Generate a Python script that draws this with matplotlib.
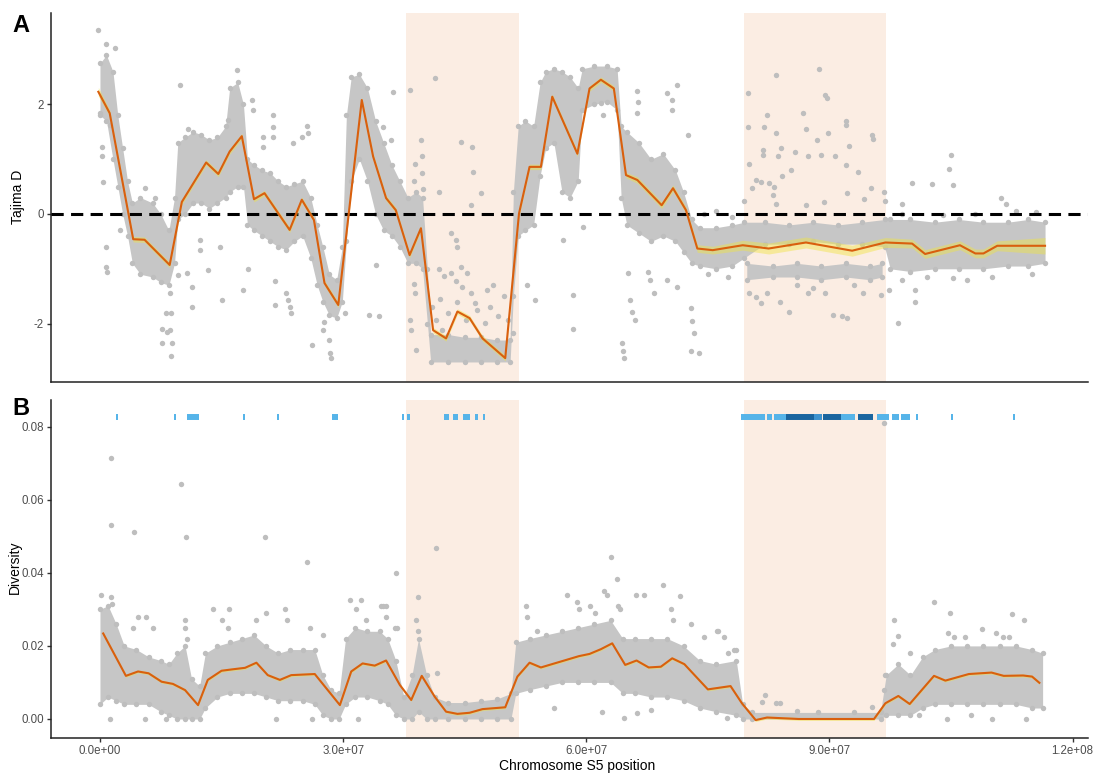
import numpy as np
import matplotlib
matplotlib.use('Agg')
import matplotlib.pyplot as plt

MB = 1e6

# positions in Mb
tajima_pos = [-0.2, 1.2, 4.1, 5.5, 8.6, 10.1, 13.1, 14.6, 16.0, 17.5,
              19.0, 20.3, 23.4, 24.9, 26.4, 27.7, 29.4, 32.3, 33.7, 35.3,
              36.5, 38.2, 39.6, 41.1, 42.7, 44.1, 45.6, 47.2, 50.0, 51.7,
              53.0, 54.4, 55.8, 58.9, 60.4, 61.8, 63.4, 64.9, 66.3, 69.3,
              70.7, 72.3, 73.7, 75.6, 79.3, 82.5, 87.1, 92.8, 96.9, 100.2,
              101.8, 106.1, 108.0, 109.0, 110.7, 116.6]
tajima_mean = [2.23, 1.84, -0.46, -0.47, -0.93, 0.22, 0.94, 0.73, 1.14, 1.42,
               0.27, 0.38, -0.29, 0.26, -0.11, -1.26, -1.66, 2.08, 1.05, 0.29,
               0.07, -0.75, -0.26, -2.12, -2.27, -1.78, -1.90, -2.27, -2.63, 0.01,
               0.86, 0.86, 2.14, 1.10, 2.29, 2.45, 2.29, 0.71, 0.62, 0.16,
               0.47, 0.07, -0.63, -0.66, -0.57, -0.63, -0.52, -0.67, -0.52, -0.54,
               -0.73, -0.57, -0.72, -0.72, -0.58, -0.58]
tajima_se = [0.08, 0.06, 0.05, 0.05, 0.05, 0.05, 0.05, 0.05, 0.05, 0.05,
             0.05, 0.05, 0.05, 0.05, 0.05, 0.05, 0.05, 0.05, 0.05, 0.05,
             0.05, 0.05, 0.05, 0.05, 0.05, 0.05, 0.05, 0.05, 0.05, 0.05,
             0.05, 0.05, 0.05, 0.05, 0.05, 0.05, 0.05, 0.05, 0.06, 0.06,
             0.06, 0.06, 0.07, 0.07, 0.09, 0.10, 0.10, 0.10, 0.09, 0.08,
             0.08, 0.08, 0.08, 0.08, 0.09, 0.15]

diversity_pos = [0.4, 3.2, 4.7, 6.0, 7.6, 9.0, 10.5, 12.1, 13.3, 15.0,
                 16.4, 17.9, 19.3, 20.7, 22.2, 23.6, 26.5, 29.6, 31.0, 32.4,
                 33.9, 35.3, 37.0, 38.4, 39.7, 41.3, 42.7, 44.1, 45.6, 47.2,
                 50.0, 51.5, 53.0, 54.4, 59.1, 60.4, 61.8, 63.2, 64.8, 66.2,
                 67.7, 69.2, 70.6, 72.1, 75.0, 77.8, 79.2, 80.9, 82.3, 86.2,
                 95.5, 96.9, 98.5, 99.9, 102.9, 104.3, 107.2, 110.0, 111.5, 113.9,
                 115.0, 115.9]
diversity_mean = [0.0234, 0.0118, 0.0130, 0.0125, 0.0102, 0.0096, 0.0079, 0.0038, 0.0107, 0.0132,
                  0.0136, 0.0140, 0.0154, 0.0120, 0.0107, 0.0120, 0.0123, 0.0038, 0.0130, 0.0152,
                  0.0146, 0.0160, 0.0093, 0.0052, 0.0118, 0.0061, 0.0020, 0.0014, 0.0017, 0.0027,
                  0.0032, 0.0116, 0.0154, 0.0141, 0.0172, 0.0178, 0.0191, 0.0207, 0.0148, 0.0160,
                  0.0141, 0.0143, 0.0166, 0.0150, 0.0081, 0.0090, 0.0043, -0.0003, 0.0004, 0.0000,
                  0.0000, 0.0043, 0.0063, 0.0041, 0.0118, 0.0105, 0.0123, 0.0127, 0.0118, 0.0119,
                  0.0116, 0.0099]
diversity_se = 0.0004

# dense part of the point cloud: (Mb, low, high)
tajima_cloud = [
    (0.0, 1.8, 2.75), (0.8, 1.7, 2.9), (1.6, 1.0, 2.6), (2.2, 0.5, 1.8), (2.8, 0.0, 1.2),
    (3.4, -0.4, 0.6), (4.0, -0.9, 0.2), (5.0, -1.1, 0.3), (6.5, -1.15, 0.2), (7.5, -1.25, 0.0),
    (8.5, -1.3, -0.3), (9.2, -0.9, 0.3), (9.6, -0.1, 1.3), (10.5, 0.0, 1.4), (11.5, 0.2, 1.5),
    (12.5, 0.2, 1.45), (13.5, 0.1, 1.35), (14.5, 0.2, 1.4), (15.5, 0.3, 1.6), (16.0, 0.4, 2.3),
    (17.0, 0.5, 2.4), (17.7, 0.5, 2.0), (18.2, -0.2, 1.0), (19.0, -0.3, 0.9), (20.0, -0.4, 0.8),
    (21.0, -0.5, 0.75), (22.0, -0.6, 0.6), (23.0, -0.65, 0.5), (24.0, -0.5, 0.55), (25.0, -0.4, 0.6),
    (26.0, -0.8, 0.3), (26.8, -1.3, -0.2), (27.5, -1.6, -0.6), (28.3, -1.85, -1.1), (29.2, -1.9, -1.2),
    (29.9, -1.6, -0.6), (30.4, -0.5, 1.8), (31.0, 0.6, 2.5), (32.0, 1.0, 2.55), (33.0, 0.6, 2.3),
    (34.0, 0.0, 1.7), (35.0, -0.3, 1.3), (36.0, -0.4, 0.9), (37.0, -0.6, 0.6), (38.0, -0.9, 0.3),
    (39.0, -0.9, 0.4), (39.8, -1.0, 0.3), (40.4, -2.0, -1.0), (40.8, -2.7, -2.2), (43.0, -2.7, -2.2),
    (45.0, -2.7, -2.25), (47.0, -2.7, -2.25), (49.0, -2.7, -2.3), (50.6, -2.7, -2.3), (51.0, -1.5, 0.4),
    (51.6, -0.4, 1.6), (52.5, -0.3, 1.7), (53.5, -0.2, 1.6), (54.3, 0.7, 2.4), (55.0, 1.2, 2.6),
    (56.0, 1.3, 2.65), (57.0, 0.4, 2.6), (58.0, 0.3, 2.5), (59.0, 0.6, 2.3), (59.5, 1.9, 2.65),
    (61.0, 2.0, 2.7), (62.5, 2.05, 2.7), (63.8, 1.9, 2.65), (64.3, 0.3, 1.6), (65.0, -0.2, 1.5),
    (66.5, -0.35, 1.3), (68.0, -0.5, 1.0), (69.5, -0.4, 1.1), (71.0, -0.5, 0.8), (72.0, -0.7, 0.4),
    (73.0, -0.9, -0.1), (74.0, -0.95, -0.25), (76.0, -1.0, -0.25), (78.0, -0.95, -0.2), (79.5, -0.8, -0.15),
    (82.0, -0.55, -0.15), (85.0, -0.55, -0.2), (88.0, -0.5, -0.15), (91.0, -0.55, -0.2), (94.0, -0.55, -0.15),
    (96.8, -0.6, -0.1), (97.5, -1.0, -0.1), (100.0, -1.05, -0.1), (103.0, -1.0, -0.15), (106.0, -1.0, -0.1),
    (109.0, -1.0, -0.15), (112.0, -0.95, -0.15), (114.5, -0.95, -0.1), (116.6, -0.9, -0.15),
]
tajima_cloud_low = [
    (79.8, -1.2, -0.9), (83.0, -1.15, -0.95), (86.0, -1.15, -0.9), (89.0, -1.2, -0.95),
    (92.0, -1.15, -0.9), (95.0, -1.2, -0.95), (96.5, -1.15, -0.9),
]
tajima_scatter = [
    (-0.2, 3.36), (0.8, 3.11), (1.9, 3.02), (0.0, 1.84), (0.3, 1.23), (0.3, 1.05), (0.4, 0.59),
    (0.8, -0.6), (0.8, -0.96), (0.9, -1.05), (1.2, 1.62), (2.5, -0.29), (5.5, 0.47), (6.8, 0.29),
    (7.6, -2.09), (7.6, -2.36), (8.7, -1.45), (8.8, -1.81), (8.7, -2.12), (8.9, -2.36), (8.8, -2.6),
    (8.2, -1.81), (8.3, -2.15), (9.9, 2.35), (9.6, -1.11), (10.7, -1.08), (11.3, -1.33), (11.3, -1.69),
    (10.9, 1.56), (12.3, -0.47), (12.3, -0.66), (13.3, -1.02), (14.8, -0.6), (15.0, -1.57), (16.9, 2.62),
    (15.8, 1.72), (17.7, -1.39), (18.3, -1.0), (18.8, 2.08), (18.9, 1.9), (20.1, 1.41), (20.1, 1.23),
    (21.4, 1.81), (21.4, 1.59), (21.4, 1.41), (21.6, -1.23), (21.6, -1.66), (23.0, -1.45), (23.2, -1.57),
    (23.4, -1.69), (23.6, -1.81), (23.8, 1.29), (24.9, 1.41), (25.6, 1.61), (25.7, 1.47), (26.1, -2.39),
    (27.5, -2.12), (27.6, -1.97), (28.3, -2.3), (28.4, -2.54), (28.5, -2.63), (30.2, -1.81), (33.2, -1.84),
    (34.4, -1.87), (34.1, -0.93), (34.9, 1.59), (35.9, 1.35), (36.1, 2.23), (38.2, 2.27), (41.3, 2.49),
    (39.6, 1.35), (39.7, 1.05), (39.7, 0.75), (39.8, 0.45), (38.9, 0.92), (38.8, 0.6), (44.6, 1.32),
    (45.9, 1.23), (46.0, 0.77), (41.8, 0.41), (47.0, 0.38), (45.8, 0.16), (43.3, -0.35), (43.9, -0.47),
    (44.1, -0.6), (41.8, -1.0), (42.4, -1.14), (43.3, -1.08), (43.9, -1.23), (44.5, -0.96), (44.7, -1.33),
    (45.3, -1.08), (45.8, -1.45), (46.3, -1.63), (47.7, -1.39), (48.1, -1.69), (38.8, -1.27), (38.9, -1.45),
    (38.2, -1.93), (38.4, -2.12), (39.0, -2.48), (52.7, -1.3), (53.7, -1.57), (58.4, -1.48), (58.4, -2.09),
    (57.1, -0.47), (59.6, -0.23), (62.1, 1.81), (61.8, 2.02), (66.3, 2.25), (66.4, 2.05), (66.2, 1.84),
    (70.0, 2.2), (70.6, 2.08), (71.2, 2.35), (70.6, 1.9), (72.6, 1.44), (65.2, -1.08), (65.4, -1.57),
    (65.6, -1.78), (66.0, -1.93), (64.4, -2.36), (64.5, -2.5), (64.6, -2.63), (67.6, -1.05), (67.8, -1.2),
    (68.3, -1.45), (70.0, -1.2), (71.2, -1.33), (72.9, -1.72), (73.1, -1.96), (73.3, -2.17), (72.9, -2.5),
    (73.9, -2.53), (41.0, -1.7), (41.4, -1.93), (42.2, -2.12), (43.0, -1.81), (45.1, -1.93), (46.5, -1.75),
    (47.5, -1.99), (49.1, -1.87), (50.3, -1.93), (50.9, -2.17), (42.0, -1.55), (44.0, -1.6), (48.5, -1.3),
    (49.8, -1.5), (79.9, 2.2), (83.4, 2.54), (88.7, 2.65), (89.5, 2.17), (89.7, 2.12), (82.3, 1.81),
    (81.9, 1.59), (80.0, 1.59), (80.1, 0.92), (83.4, 1.48), (86.7, 1.85), (87.1, 1.56), (89.8, 1.48),
    (88.5, 1.35), (92.0, 1.7), (92.0, 1.62), (92.4, 1.24), (95.3, 1.44), (95.4, 1.36), (81.8, 1.17),
    (81.8, 1.08), (84.0, 1.2), (85.8, 1.14), (83.7, 1.05), (87.3, 1.05), (88.9, 1.08), (90.7, 1.05),
    (92.1, 0.89), (93.5, 0.77), (80.9, 0.62), (81.5, 0.59), (82.5, 0.56), (83.1, 0.5), (85.3, 0.8),
    (84.2, 0.69), (80.5, 0.47), (83.0, 0.35), (92.2, 0.39), (95.1, 0.47), (94.3, 0.27), (96.7, 0.41),
    (79.4, 0.23), (83.4, 0.19), (87.1, 0.16), (89.3, 0.22), (96.8, 0.23), (98.9, 0.19), (100.2, 0.57),
    (102.7, 0.55), (105.2, 0.53), (105.0, 1.08), (104.8, 0.82), (111.2, 0.29), (111.8, 0.18), (115.5, 0.04),
    (80.1, -1.45), (80.9, -1.51), (81.5, -1.63), (82.3, -1.45), (83.9, -1.6), (85.0, -1.78), (87.3, -1.45),
    (89.5, -1.45), (90.4, -1.84), (91.6, -1.87), (92.2, -1.9), (94.1, -1.45), (96.3, -1.48), (98.4, -1.98),
    (100.5, -1.39), (100.5, -1.6), (105.3, -1.17), (97.3, -1.39), (86.0, -1.3), (88.0, -1.35), (93.0, -1.3),
    (74.5, 0.0), (76.0, 0.05), (78.0, -0.05), (99.0, 0.0), (104.0, -0.02), (108.0, 0.0), (113.0, 0.05),
    (75.0, -1.1), (77.5, -1.15), (99.0, -1.2), (102.0, -1.15), (107.0, -1.2), (110.0, -1.15), (115.0, -1.1),
]

diversity_cloud = [
    (0.0, 0.004, 0.030), (1.0, 0.006, 0.031), (2.0, 0.005, 0.026), (3.0, 0.004, 0.020), (4.5, 0.004, 0.019),
    (6.0, 0.004, 0.017), (7.5, 0.002, 0.016), (8.5, 0.001, 0.015), (9.5, 0.000, 0.018), (10.5, 0.000, 0.020),
    (11.3, 0.000, 0.011), (12.3, 0.000, 0.009), (13.0, 0.003, 0.018), (14.5, 0.006, 0.020), (16.0, 0.007, 0.021),
    (17.5, 0.007, 0.022), (19.0, 0.007, 0.023), (20.5, 0.006, 0.020), (22.0, 0.005, 0.018), (23.5, 0.005, 0.019),
    (25.0, 0.005, 0.019), (26.5, 0.004, 0.019), (27.5, 0.001, 0.012), (28.5, 0.000, 0.008), (29.5, 0.000, 0.007),
    (30.3, 0.004, 0.022), (31.5, 0.006, 0.025), (33.0, 0.006, 0.024), (34.5, 0.005, 0.024), (35.5, 0.004, 0.022),
    (36.5, 0.001, 0.016), (37.5, 0.000, 0.006), (38.5, 0.000, 0.012), (39.3, 0.002, 0.022), (40.3, 0.000, 0.012),
    (41.3, 0.000, 0.006), (43.0, 0.000, 0.0045), (45.0, 0.000, 0.0045), (47.0, 0.000, 0.005), (49.0, 0.000, 0.0055),
    (50.7, 0.000, 0.007), (51.3, 0.007, 0.021), (53.0, 0.008, 0.022), (55.0, 0.009, 0.023), (57.0, 0.010, 0.024),
    (59.0, 0.010, 0.025), (61.0, 0.010, 0.026), (63.0, 0.010, 0.027), (64.5, 0.007, 0.022), (66.0, 0.007, 0.022),
    (68.0, 0.006, 0.022), (70.0, 0.006, 0.022), (72.0, 0.005, 0.020), (74.0, 0.003, 0.016), (76.0, 0.002, 0.015),
    (78.5, 0.001, 0.016), (79.3, 0.000, 0.004), (80.5, 0.000, 0.0018), (96.3, 0.000, 0.0018), (97.0, 0.001, 0.012),
    (98.5, 0.001, 0.015), (100.0, 0.001, 0.012), (101.5, 0.003, 0.017), (103.0, 0.004, 0.019), (105.0, 0.004, 0.020),
    (107.0, 0.004, 0.020), (109.0, 0.004, 0.020), (111.0, 0.004, 0.020), (113.0, 0.004, 0.020), (115.0, 0.003, 0.019),
    (116.3, 0.003, 0.018),
]
diversity_scatter = [
    (1.4, 0.0713), (1.4, 0.0531), (4.2, 0.0513), (10.0, 0.0642), (10.6, 0.0499), (20.4, 0.0497),
    (25.5, 0.043), (36.5, 0.0399), (41.5, 0.0467), (39.2, 0.0335), (63.1, 0.0442), (63.8, 0.0382),
    (96.7, 0.081), (0.1, 0.034), (1.3, 0.0335), (1.5, 0.0315), (4.1, 0.025), (4.7, 0.028), (5.7, 0.028),
    (6.6, 0.025), (10.5, 0.027), (10.5, 0.025), (10.7, 0.022), (13.9, 0.030), (15.9, 0.030), (15.0, 0.027),
    (15.8, 0.025), (19.3, 0.027), (20.5, 0.029), (22.8, 0.030), (23.1, 0.027), (25.9, 0.025), (27.5, 0.023),
    (30.8, 0.0325), (32.2, 0.0325), (31.6, 0.030), (32.8, 0.027), (34.9, 0.031), (35.3, 0.028), (36.4, 0.025),
    (1.2, 0.0), (5.5, 0.0), (8.2, 0.0), (21.7, 0.0), (26.2, 0.0), (31.8, 0.0), (34.7, 0.031), (35.3, 0.031),
    (36.6, 0.025), (39.2, 0.024), (39.0, 0.027), (41.6, 0.0125), (52.6, 0.031), (52.7, 0.028), (53.9, 0.024),
    (57.6, 0.034), (58.9, 0.032), (59.1, 0.030), (60.5, 0.031), (61.1, 0.029), (62.2, 0.035), (62.6, 0.034),
    (63.9, 0.031), (64.1, 0.030), (64.6, 0.0002), (66.2, 0.0015), (66.1, 0.034), (67.1, 0.034), (69.5, 0.0367),
    (70.5, 0.030), (70.7, 0.027), (71.6, 0.0336), (72.9, 0.026), (74.5, 0.0225), (76.1, 0.024), (77.5, 0.018),
    (78.5, 0.019), (77.4, 0.0002), (68.0, 0.0025), (62.0, 0.002), (56.0, 0.003), (76.2, 0.024), (77.0, 0.0225),
    (78.2, 0.019), (82.1, 0.0066), (83.4, 0.0043), (83.9, 0.0043), (81.7, 0.0047), (86.0, 0.0023), (88.6, 0.002),
    (95.3, 0.0034), (93.0, 0.002), (98.0, 0.0271), (97.8, 0.0206), (98.5, 0.0226), (99.9, 0.018), (102.9, 0.0321),
    (104.9, 0.0291), (104.6, 0.0235), (105.4, 0.0225), (106.7, 0.0225), (108.8, 0.0245), (110.5, 0.0235),
    (111.4, 0.0225), (112.2, 0.0225), (112.5, 0.0287), (114.0, 0.0271), (114.2, 0.0), (110.1, 0.0), (104.5, 0.0),
    (96.7, 0.008), (96.8, 0.012), (101.0, 0.001), (107.5, 0.001),
]

# candidate sweep windows (Mb) and how many overlap
sweep_start = [2.0, 9.1, 10.75, 17.6, 21.9, 28.6, 37.3, 37.9, 42.5, 43.5, 44.8, 46.3, 47.2,
               79.1, 82.25, 83.2, 84.7, 88.1, 89.2, 91.4, 93.5, 95.9, 97.7, 98.8, 100.7, 105.0, 112.6]
sweep_end = [2.25, 9.35, 12.2, 17.85, 22.15, 29.4, 37.55, 38.25, 43.1, 44.2, 45.7, 46.7, 47.45,
             82.1, 82.9, 84.6, 88.1, 89.1, 91.4, 93.2, 95.4, 97.3, 98.6, 100.0, 100.95, 105.25, 112.85]
sweep_level = [1, 1, 1, 1, 1, 1, 1, 1, 1, 1, 1, 1, 1,
               1, 1, 1, 3, 2, 3, 1, 3, 1, 1, 1, 1, 1, 1]

regions = [(37.7, 51.7), (79.5, 97.0)]

GREY = '#BEBEBE'
CLOUD = '#C6C6C6'
ORANGE = '#D95F0E'
RIBBON = '#F0E442'
SHADE = '#FBEDE3'
BLUES = {1: '#56B4E9', 2: '#3E93CF', 3: '#1A659F'}
PT = 15

plt.rcParams['font.family'] = ['Liberation Sans', 'DejaVu Sans']

fig = plt.figure(figsize=(10.97, 7.73), dpi=100)
axA = fig.add_axes([0.0465, 0.5058, 0.9453, 0.4774])
axB = fig.add_axes([0.0465, 0.0453, 0.9453, 0.4372])


def draw_cloud(ax, cloud):
    pos = np.array([c[0] for c in cloud]) * MB
    lo = np.array([c[1] for c in cloud])
    hi = np.array([c[2] for c in cloud])
    ax.fill_between(pos, lo, hi, color=CLOUD, lw=0, zorder=1)
    ax.scatter(np.r_[pos, pos], np.r_[lo, hi], s=PT, color=GREY, lw=0, zorder=2)


def draw_points(ax, pts):
    x = np.array([p[0] for p in pts]) * MB
    y = np.array([p[1] for p in pts])
    ax.scatter(x, y, s=PT, color=GREY, lw=0, zorder=2)


for ax in (axA, axB):
    for a, b in regions:
        ax.axvspan(a * MB, b * MB, color=SHADE, lw=0, zorder=0)
    for s in ('top', 'right'):
        ax.spines[s].set_visible(False)
    for s in ('left', 'bottom'):
        ax.spines[s].set_color('#222222')
        ax.spines[s].set_linewidth(1.1)
    ax.tick_params(length=3, width=1.0, color='#333333', labelcolor='#4D4D4D',
                   labelsize=8.3, pad=2)
    ax.set_xlim(-6.04 * MB, 121.9 * MB)

# panel A
draw_cloud(axA, tajima_cloud)
draw_cloud(axA, tajima_cloud_low)
draw_points(axA, tajima_scatter)
axA.axhline(0, color='black', lw=2.2, ls=(0, (4.0, 2.4)), zorder=3)
tx = np.array(tajima_pos) * MB
ty = np.array(tajima_mean)
tse = np.array(tajima_se)
axA.fill_between(tx, ty - tse, ty + tse, color=RIBBON, alpha=0.45, lw=0, zorder=4)
axA.plot(tx, ty, color=ORANGE, lw=1.5, zorder=5)
axA.set_ylim(-3.066, 3.668)
axA.set_yticks([-2, 0, 2])
axA.set_yticklabels(['-2', '0', '2'])
axA.tick_params(axis='x', bottom=False, labelbottom=False)

# panel B
draw_cloud(axB, diversity_cloud)
draw_points(axB, diversity_scatter)
dx = np.array(diversity_pos) * MB
dy = np.array(diversity_mean)
axB.fill_between(dx, dy - diversity_se, dy + diversity_se, color=RIBBON, alpha=0.45, lw=0, zorder=4)
axB.plot(dx, dy, color=ORANGE, lw=1.5, zorder=5)
for s, e, lv in zip(sweep_start, sweep_end, sweep_level):
    axB.hlines(0.0826, s * MB, e * MB, color=BLUES[lv], lw=4.3, capstyle='butt', zorder=6)
axB.set_ylim(-0.0052, 0.08728)
axB.set_yticks([0, 0.02, 0.04, 0.06, 0.08])
axB.set_yticklabels(['0.00', '0.02', '0.04', '0.06', '0.08'])
axB.set_xticks([0, 3e7, 6e7, 9e7, 1.2e8])
axB.set_xticklabels(['0.0e+00', '3.0e+07', '6.0e+07', '9.0e+07', '1.2e+08'])

W, H = 1097, 773
fig.text(12 / W, 1 - 32 / H, 'A', fontsize=17, fontweight='bold', va='baseline')
fig.text(12 / W, 1 - 415 / H, 'B', fontsize=17, fontweight='bold', va='baseline')
fig.text(18 / W, 1 - 197 / H, 'Tajima D', rotation=90, fontsize=10, ha='center', va='center')
fig.text(15 / W, 1 - 567 / H, 'Diversity', rotation=90, fontsize=10, ha='center', va='center')
fig.text(577 / W, 1 - 766 / H, 'Chromosome S5 position', fontsize=10, ha='center', va='center')

fig.savefig('out.png', dpi=100)
